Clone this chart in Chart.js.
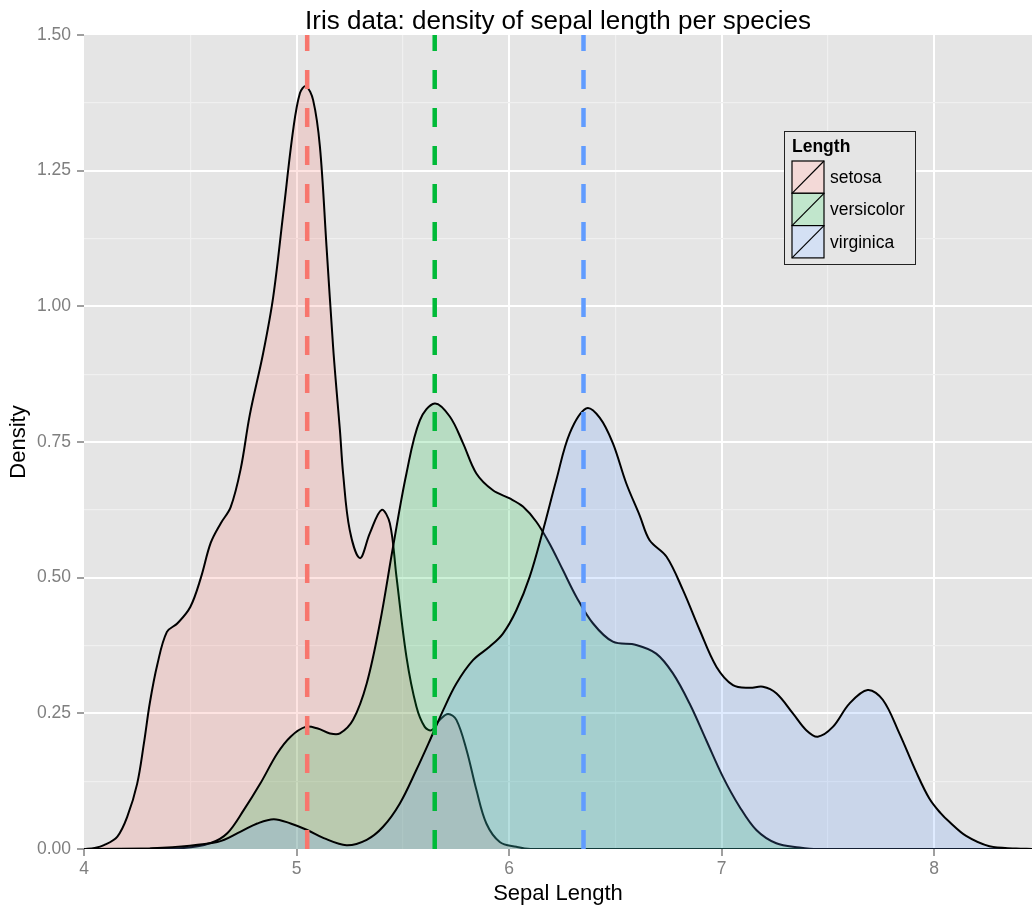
<!DOCTYPE html>
<html>
<head>
<meta charset="utf-8">
<title>Iris data: density of sepal length per species</title>
<script src="https://cdn.jsdelivr.net/npm/chart.js@4.4.1/dist/chart.umd.min.js"></script>
<style>
  body { margin: 0; background: #ffffff; }
  canvas { display: block; }
</style>
</head>
<body>
<canvas id="grafico" width="1032" height="907"></canvas>
<script>
const especies = ['setosa', 'versicolor', 'virginica'];
const colores = ['#F8766D', '#00BA38', '#619CFF'];

// densidad estimada de Sepal.Length por especie
const setosaX = [4.0, 4.05, 4.094, 4.157, 4.204, 4.25, 4.282, 4.31, 4.345, 4.39, 4.44, 4.50, 4.55, 4.596,
  4.643, 4.69, 4.737, 4.78, 4.843, 4.89, 4.937, 4.984, 5.016, 5.044, 5.078, 5.11, 5.141, 5.172, 5.188,
  5.204, 5.219, 5.25, 5.298, 5.345, 5.40, 5.439, 5.47, 5.517, 5.564, 5.603, 5.635, 5.674, 5.713, 5.752,
  5.80, 5.846, 5.893, 5.956, 6.034, 6.1, 8.46];
const setosaY = [0, 0.002, 0.007, 0.023, 0.06, 0.12, 0.195, 0.27, 0.34, 0.40, 0.416, 0.446, 0.50, 0.564,
  0.60, 0.63, 0.70, 0.80, 0.914, 1.017, 1.17, 1.325, 1.393, 1.406, 1.38, 1.294, 1.11, 0.925, 0.846,
  0.772, 0.692, 0.588, 0.536, 0.582, 0.625, 0.60, 0.502, 0.354, 0.262, 0.225, 0.219, 0.238, 0.249, 0.238,
  0.182, 0.109, 0.047, 0.013, 0.004, 0, 0];

const versicolorX = [4.0, 4.47, 4.596, 4.674, 4.752, 4.83, 4.909, 4.972, 5.042, 5.10, 5.157, 5.204, 5.266,
  5.33, 5.392, 5.454, 5.517, 5.58, 5.65, 5.721, 5.783, 5.846, 5.924, 6.003, 6.065, 6.128, 6.19, 6.253,
  6.316, 6.394, 6.488, 6.598, 6.692, 6.77, 6.849, 6.928, 7.006, 7.084, 7.163, 7.257, 7.366, 7.45, 8.46];
const versicolorY = [0, 0.002, 0.011, 0.029, 0.072, 0.121, 0.176, 0.207, 0.225, 0.222, 0.213, 0.213, 0.238,
  0.305, 0.416, 0.557, 0.692, 0.79, 0.821, 0.797, 0.748, 0.692, 0.661, 0.646, 0.631, 0.603, 0.563, 0.514,
  0.465, 0.416, 0.382, 0.376, 0.36, 0.324, 0.268, 0.20, 0.133, 0.078, 0.035, 0.0105, 0.003, 0, 0];

const virginicaX = [4.0, 4.31, 4.627, 4.737, 4.815, 4.893, 4.972, 5.05, 5.128, 5.235, 5.33, 5.407, 5.486,
  5.564, 5.627, 5.69, 5.752, 5.83, 5.909, 5.971, 6.034, 6.097, 6.16, 6.222, 6.285, 6.363, 6.426, 6.488,
  6.551, 6.614, 6.661, 6.74, 6.818, 6.896, 6.975, 7.053, 7.131, 7.194, 7.257, 7.335, 7.398, 7.452, 7.523,
  7.601, 7.687, 7.758, 7.836, 7.915, 7.977, 8.03, 8.071, 8.15, 8.26, 8.385, 8.46];
const virginicaY = [0, 0.001, 0.013, 0.032, 0.047, 0.055, 0.047, 0.035, 0.02, 0.007, 0.017, 0.041, 0.084,
  0.146, 0.20, 0.256, 0.305, 0.348, 0.373, 0.397, 0.44, 0.502, 0.588, 0.68, 0.766, 0.812, 0.795, 0.748,
  0.674, 0.615, 0.569, 0.539, 0.477, 0.404, 0.336, 0.302, 0.297, 0.299, 0.287, 0.25, 0.219, 0.207, 0.225,
  0.268, 0.293, 0.275, 0.213, 0.142, 0.093, 0.066, 0.05, 0.024, 0.005, 0.001, 0];

// moda de cada curva (lineas verticales)
const modaX = [5.05, 5.65, 6.35];

const xMayor = [4, 5, 6, 7, 8];
const xMenor = [4.5, 5.5, 6.5, 7.5];
const xEtiquetas = ['4', '5', '6', '7', '8'];
const yMayor = [0, 0.25, 0.5, 0.75, 1, 1.25, 1.5];
const yMenor = [0.125, 0.375, 0.625, 0.875, 1.125, 1.375];
const yEtiquetas = ['0.00', '0.25', '0.50', '0.75', '1.00', '1.25', '1.50'];

const fuente = "'Liberation Sans', Arial, Helvetica, sans-serif";

function conAlfa(hex, a) {
    const r = parseInt(hex.slice(1, 3), 16);
    const g = parseInt(hex.slice(3, 5), 16);
    const b = parseInt(hex.slice(5, 7), 16);
    return `rgba(${r}, ${g}, ${b}, ${a})`;
}

function puntos(xs, ys) {
    return xs.map((x, i) => ({ x: x, y: ys[i] }));
}

const curvas = [[setosaX, setosaY], [versicolorX, versicolorY], [virginicaX, virginicaY]];

const datasets = curvas.map(([xs, ys], i) => ({
    label: especies[i],
    data: puntos(xs, ys),
    backgroundColor: conAlfa(colores[i], 0.2),
    borderColor: '#000000',
    borderWidth: 2,
    fill: 'origin',
    pointRadius: 0,
    tension: 0.35,
    order: 10 - i
}));

// lineas discontinuas de la moda, encima de todo
modaX.forEach((m, i) => {
    datasets.push({
        label: 'moda ' + especies[i],
        esModa: true,
        data: [{ x: m, y: yMayor[0] }, { x: m, y: yMayor[yMayor.length - 1] }],
        borderColor: colores[i],
        borderWidth: 4.5,
        borderDash: [19, 19],
        borderCapStyle: 'butt',
        fill: false,
        pointRadius: 0,
        clip: 0,
        order: 0
    });
});

const fondoPanel = {
    id: 'fondoPanel',
    beforeDraw(chart) {
        const { ctx, chartArea: a } = chart;
        ctx.save();
        ctx.fillStyle = '#E5E5E5';
        ctx.fillRect(a.left, a.top, a.right - a.left, a.bottom - a.top);
        ctx.restore();
    }
};

const leyenda = {
    id: 'leyenda',
    afterDraw(chart) {
        const { ctx, chartArea: a } = chart;
        const x0 = a.right - 248;
        const y0 = a.top + 96;
        const ancho = 132, alto = 134, lado = 32, paso = 32.3;
        ctx.save();
        ctx.fillStyle = '#E5E5E5';
        ctx.fillRect(x0, y0, ancho, alto);
        ctx.strokeStyle = '#222222';
        ctx.lineWidth = 1;
        ctx.strokeRect(x0 + 0.5, y0 + 0.5, ancho - 1, alto - 1);

        ctx.fillStyle = '#000000';
        ctx.font = 'bold 17.5px ' + fuente;
        ctx.textBaseline = 'alphabetic';
        ctx.fillText('Length', x0 + 8, y0 + 21);

        ctx.font = '17.5px ' + fuente;
        ctx.textBaseline = 'middle';
        chart.data.datasets.filter(d => !d.esModa).forEach((d, i) => {
            const kx = x0 + 8, ky = y0 + 30 + i * paso;
            ctx.fillStyle = '#F2F2F2';
            ctx.fillRect(kx, ky, lado, paso);
            ctx.fillStyle = d.backgroundColor;
            ctx.fillRect(kx, ky, lado, paso);
            ctx.strokeStyle = '#000000';
            ctx.lineWidth = 1.2;
            ctx.strokeRect(kx, ky, lado, paso);
            ctx.beginPath();
            ctx.moveTo(kx, ky + paso);
            ctx.lineTo(kx + lado, ky);
            ctx.stroke();
            ctx.fillStyle = '#000000';
            ctx.fillText(d.label, kx + lado + 6, ky + paso / 2 + 1);
        });
        ctx.restore();
    }
};

function opcionesRejilla(mayores) {
    return {
        color: c => {
            const v = c.tick.value;
            if (v === c.scale.min || v === c.scale.max) return 'rgba(0,0,0,0)';
            return mayores.includes(v) ? '#FFFFFF' : '#F0F0F0';
        },
        lineWidth: c => mayores.includes(c.tick.value) ? 2 : 1.2,
        tickColor: c => mayores.includes(c.tick.value) ? '#7F7F7F' : 'rgba(0,0,0,0)',
        tickWidth: 1.5,
        tickLength: 7,
        drawTicks: true
    };
}

const ctx = document.getElementById('grafico').getContext('2d');
new Chart(ctx, {
    type: 'line',
    data: { datasets: datasets },
    options: {
        responsive: false,
        animation: false,
        events: [],
        layout: { padding: 0 },
        scales: {
            x: {
                type: 'linear',
                min: 4,
                max: 8.46,
                afterBuildTicks: s => { s.ticks = xMayor.concat(xMenor).sort((p, q) => p - q).map(v => ({ value: v })); },
                afterFit: s => { s.height = 58; },
                grid: opcionesRejilla(xMayor),
                border: { display: false },
                ticks: {
                    autoSkip: false,
                    maxRotation: 0,
                    padding: 3,
                    color: '#7F7F7F',
                    font: { family: fuente, size: 17.5 },
                    callback: v => { const i = xMayor.indexOf(v); return i >= 0 ? xEtiquetas[i] : ''; }
                },
                title: {
                    display: true,
                    text: 'Sepal Length',
                    color: '#000000',
                    font: { family: fuente, size: 22, lineHeight: 1.2 },
                    padding: { top: 0, bottom: 0 }
                }
            },
            y: {
                type: 'linear',
                min: 0,
                max: 1.5,
                afterBuildTicks: s => { s.ticks = yMayor.concat(yMenor).sort((p, q) => p - q).map(v => ({ value: v })); },
                afterFit: s => { s.width = 84; },
                grid: opcionesRejilla(yMayor),
                border: { display: false },
                ticks: {
                    autoSkip: false,
                    padding: 6,
                    color: '#7F7F7F',
                    font: { family: fuente, size: 17.5 },
                    callback: v => { const i = yMayor.indexOf(v); return i >= 0 ? yEtiquetas[i] : ''; }
                },
                title: {
                    display: true,
                    text: 'Density',
                    color: '#000000',
                    font: { family: fuente, size: 22, lineHeight: 1.2 },
                    padding: { top: 6, bottom: 0 }
                }
            }
        },
        plugins: {
            legend: { display: false },
            tooltip: { enabled: false },
            title: {
                display: true,
                text: 'Iris data: density of sepal length per species',
                color: '#000000',
                fullSize: false,
                font: { family: fuente, size: 26, weight: 'normal', lineHeight: 1 },
                padding: { top: 9, bottom: 0 }
            }
        }
    },
    plugins: [fondoPanel, leyenda]
});
</script>
</body>
</html>
